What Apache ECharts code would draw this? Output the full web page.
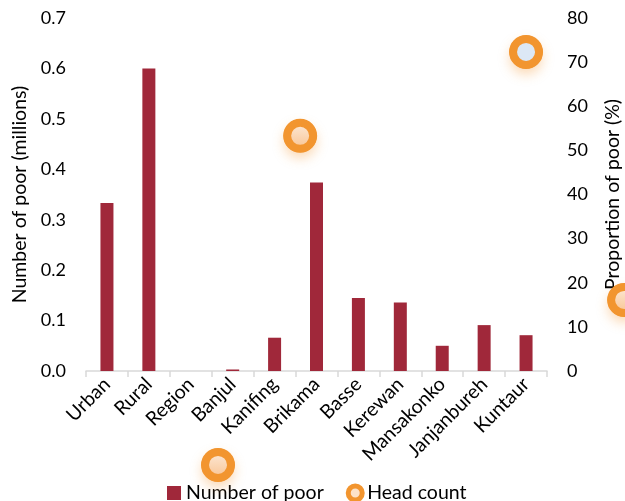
<!DOCTYPE html>
<html>
<head>
<meta charset="utf-8">
<script src="https://cdn.jsdelivr.net/npm/echarts@6/dist/echarts.min.js"></script>
<style>
  html, body { margin: 0; padding: 0; background: #fff; }
  #chart { width: 625px; height: 501px; }
</style>
</head>
<body>
<div id="chart"></div>
<script>
// Regions and poverty counts (millions)
const categories = ['Urban', 'Rural', 'Region', 'Banjul', 'Kanifing', 'Brikama', 'Basse', 'Kerewan', 'Mansakonko', 'Janjanbureh', 'Kuntaur'];
const numberOfPoor = [0.333, 0.600, 0, 0.003, 0.066, 0.374, 0.145, 0.136, 0.050, 0.091, 0.071];

// Head count points: position along the category span and proportion of poor (%)
const headCountX = [5.11, 10.50, 3.15, 12.84];
const headCountY = [53.3, 72.3, -21.3, 16.1];

const leftTicks = { min: 0, max: 0.7, interval: 0.1 };
const rightTicks = { min: 0, max: 80, interval: 10 };

const FONT = 'Lato';
const TEXT = '#000';
const NUM_SIZE = 18;
const WORD_SIZE = 19.5;
const RING = '#f2952f';

const peachFill = new echarts.graphic.LinearGradient(0, 0, 0, 1, [
  { offset: 0, color: '#fdeee0' },
  { offset: 1, color: '#f8bf8a' }
]);

const headCountPoints = headCountX.map((x, i) => [x, headCountY[i]]);
const headCountData = headCountPoints.map((v, i) => {
  const item = { value: v };
  if (i === 1) item.itemStyle = { color: '#dce8f5' };
  return item;
});

const chart = echarts.init(document.getElementById('chart'), null, { renderer: 'canvas' });
chart.setOption({
  animation: false,
  textStyle: { fontFamily: FONT },
  grid: { left: 86, right: 78, top: 18, bottom: 130, containLabel: false, outerBoundsMode: 'none' },
  legend: {
    left: 162, top: 478,
    itemWidth: 14, itemHeight: 14, itemGap: 22,
    textStyle: { fontFamily: FONT, fontSize: WORD_SIZE, color: TEXT },
    data: [
      { name: 'Number of poor', icon: 'rect' },
      { name: 'Head count', icon: 'circle',
        itemStyle: { color: '#fde3c8', borderColor: RING, borderWidth: 5, opacity: 1 } }
    ]
  },
  xAxis: [
    {
      type: 'category',
      data: categories,
      axisLine: { lineStyle: { color: '#d9d9d9', width: 1.5 } },
      axisTick: { show: true, length: 6, lineStyle: { color: '#d9d9d9', width: 1.5 } },
      axisLabel: { rotate: 45, fontFamily: FONT, fontSize: WORD_SIZE, color: TEXT, margin: 10, interval: 0 }
    },
    { type: 'value', min: 0, max: 11, show: false }
  ],
  yAxis: [
    {
      type: 'value', ...leftTicks,
      name: 'Number of poor (millions)', nameLocation: 'middle', nameGap: 54, nameRotate: 90,
      nameTextStyle: { fontFamily: FONT, fontSize: WORD_SIZE, color: TEXT },
      axisLine: { show: false }, axisTick: { show: false }, splitLine: { show: false },
      axisLabel: { fontFamily: FONT, fontSize: NUM_SIZE, color: TEXT, margin: 20,
                   formatter: v => v.toFixed(1) }
    },
    {
      type: 'value', ...rightTicks, position: 'right',
      name: 'Proportion of poor (%)', nameLocation: 'middle', nameGap: 56, nameRotate: 90,
      nameTextStyle: { fontFamily: FONT, fontSize: WORD_SIZE, color: TEXT },
      axisLine: { show: false }, axisTick: { show: false }, splitLine: { show: false },
      axisLabel: { fontFamily: FONT, fontSize: NUM_SIZE, color: TEXT, margin: 20 }
    }
  ],
  series: [
    {
      name: 'Number of poor', type: 'bar',
      data: numberOfPoor, barWidth: 13,
      itemStyle: { color: '#a0283a' }
    },
    {
      // soft glow underneath each head count marker
      type: 'scatter', silent: true,
      xAxisIndex: 1, yAxisIndex: 1, clip: false,
      data: headCountPoints, symbol: 'circle', symbolSize: 33,
      itemStyle: {
        color: RING, opacity: 1,
        shadowBlur: 12, shadowOffsetY: 6, shadowColor: 'rgba(243,150,50,0.35)'
      },
      z: 4
    },
    {
      name: 'Head count', type: 'scatter',
      xAxisIndex: 1, yAxisIndex: 1, clip: false,
      data: headCountData, symbol: 'circle', symbolSize: 26,
      itemStyle: { color: peachFill, borderColor: RING, borderWidth: 8, opacity: 1 },
      z: 5
    }
  ]
});
</script>
</body>
</html>
